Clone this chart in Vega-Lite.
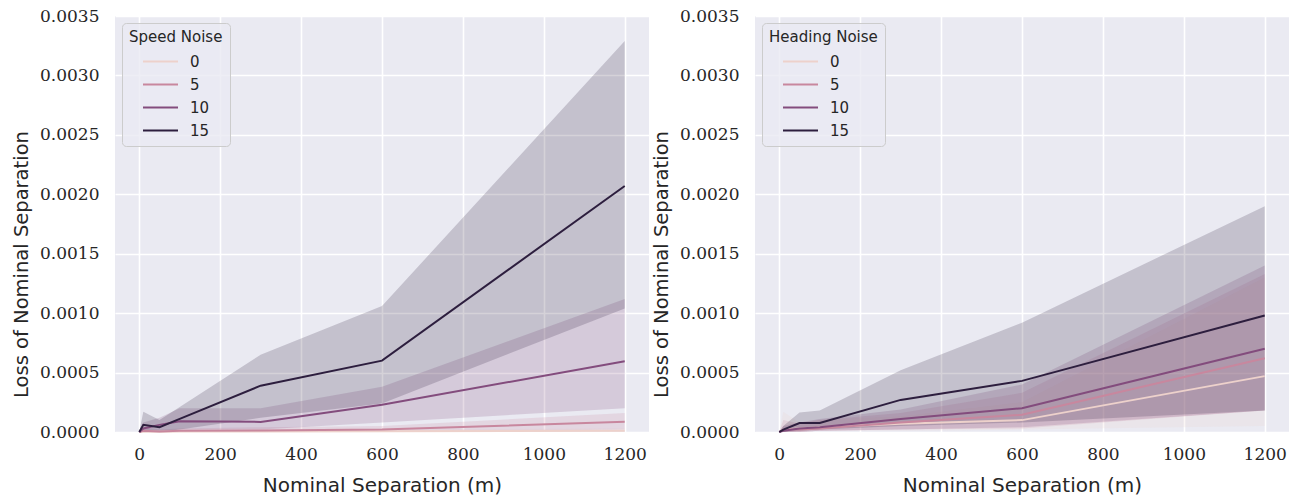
{
  "$schema": "https://vega.github.io/schema/vega-lite/v6.json",
  "background": "white",
  "padding": {"left": 11, "top": 7, "right": 0, "bottom": 0},
  "spacing": 2,
  "datasets": {
    "speed": [
      {"noise": 0, "sep": 0, "loss": 0, "lo": 0, "hi": 0},
      {"noise": 0, "sep": 10, "loss": 0.000005, "lo": 0, "hi": 0.00002},
      {"noise": 0, "sep": 50, "loss": 0.000003, "lo": 0, "hi": 0.00001},
      {"noise": 0, "sep": 100, "loss": 0.000005, "lo": 0, "hi": 0.00002},
      {"noise": 0, "sep": 300, "loss": 0.000005, "lo": 0, "hi": 0.00002},
      {"noise": 0, "sep": 600, "loss": 0.000006, "lo": 0, "hi": 0.00002},
      {"noise": 0, "sep": 1200, "loss": 0.00001, "lo": 0, "hi": 0.00003},
      {"noise": 5, "sep": 0, "loss": 0, "lo": 0, "hi": 0},
      {"noise": 5, "sep": 10, "loss": 0.00001, "lo": 0, "hi": 0.00004},
      {"noise": 5, "sep": 50, "loss": 0.000005, "lo": 0, "hi": 0.00002},
      {"noise": 5, "sep": 100, "loss": 0.00001, "lo": 0, "hi": 0.00003},
      {"noise": 5, "sep": 300, "loss": 0.000012, "lo": 0, "hi": 0.00004},
      {"noise": 5, "sep": 600, "loss": 0.00002, "lo": 0, "hi": 0.00005},
      {"noise": 5, "sep": 1200, "loss": 0.000087, "lo": 0.00002, "hi": 0.00016},
      {"noise": 10, "sep": 0, "loss": 0, "lo": 0, "hi": 0},
      {"noise": 10, "sep": 10, "loss": 0.00003, "lo": 0, "hi": 0.00008},
      {"noise": 10, "sep": 50, "loss": 0.00006, "lo": 0.00001, "hi": 0.00012},
      {"noise": 10, "sep": 100, "loss": 0.00009, "lo": 0.00002, "hi": 0.0002},
      {"noise": 10, "sep": 300, "loss": 0.000085, "lo": 0.00002, "hi": 0.0002},
      {"noise": 10, "sep": 600, "loss": 0.00023, "lo": 0.00008, "hi": 0.00038},
      {"noise": 10, "sep": 1200, "loss": 0.000595, "lo": 0.0002, "hi": 0.00112},
      {"noise": 15, "sep": 0, "loss": 0, "lo": 0, "hi": 0},
      {"noise": 15, "sep": 10, "loss": 0.00006, "lo": 0, "hi": 0.00017},
      {"noise": 15, "sep": 50, "loss": 0.00004, "lo": 0, "hi": 0.0001},
      {"noise": 15, "sep": 100, "loss": 0.00011, "lo": 0.00002, "hi": 0.00021},
      {"noise": 15, "sep": 300, "loss": 0.00039, "lo": 0.00012, "hi": 0.00065},
      {"noise": 15, "sep": 600, "loss": 0.0006, "lo": 0.00024, "hi": 0.00106},
      {"noise": 15, "sep": 1200, "loss": 0.00207, "lo": 0.00104, "hi": 0.00329}
    ],
    "heading": [
      {"noise": 0, "sep": 0, "loss": 0, "lo": 0, "hi": 0},
      {"noise": 0, "sep": 10, "loss": 0.00002, "lo": 0, "hi": 0.00017},
      {"noise": 0, "sep": 50, "loss": 0.00003, "lo": 0, "hi": 0.00008},
      {"noise": 0, "sep": 100, "loss": 0.00004, "lo": 0.00001, "hi": 0.0001},
      {"noise": 0, "sep": 300, "loss": 0.00007, "lo": 0.00001, "hi": 0.00013},
      {"noise": 0, "sep": 600, "loss": 0.0001, "lo": 0.00002, "hi": 0.00025},
      {"noise": 0, "sep": 1200, "loss": 0.00047, "lo": 0.00005, "hi": 0.0013},
      {"noise": 5, "sep": 0, "loss": 0, "lo": 0, "hi": 0},
      {"noise": 5, "sep": 10, "loss": 0.00002, "lo": 0, "hi": 0.0001},
      {"noise": 5, "sep": 50, "loss": 0.00002, "lo": 0, "hi": 0.00007},
      {"noise": 5, "sep": 100, "loss": 0.00003, "lo": 0.00001, "hi": 0.0001},
      {"noise": 5, "sep": 300, "loss": 0.00008, "lo": 0.00002, "hi": 0.00016},
      {"noise": 5, "sep": 600, "loss": 0.000145, "lo": 0.00003, "hi": 0.00033},
      {"noise": 5, "sep": 1200, "loss": 0.00062, "lo": 0.00018, "hi": 0.00133},
      {"noise": 10, "sep": 0, "loss": 0, "lo": 0, "hi": 0},
      {"noise": 10, "sep": 10, "loss": 0.00001, "lo": 0, "hi": 0.00005},
      {"noise": 10, "sep": 50, "loss": 0.00003, "lo": 0, "hi": 0.00008},
      {"noise": 10, "sep": 100, "loss": 0.00004, "lo": 0.00001, "hi": 0.00011},
      {"noise": 10, "sep": 300, "loss": 0.00011, "lo": 0.00002, "hi": 0.00019},
      {"noise": 10, "sep": 600, "loss": 0.0002, "lo": 0.00004, "hi": 0.0004},
      {"noise": 10, "sep": 1200, "loss": 0.0007, "lo": 0.00018, "hi": 0.0014},
      {"noise": 15, "sep": 0, "loss": 0, "lo": 0, "hi": 0},
      {"noise": 15, "sep": 10, "loss": 0.00002, "lo": 0, "hi": 0.00005},
      {"noise": 15, "sep": 50, "loss": 0.000075, "lo": 0.00001, "hi": 0.000165},
      {"noise": 15, "sep": 100, "loss": 0.000075, "lo": 0.00002, "hi": 0.00018},
      {"noise": 15, "sep": 300, "loss": 0.00027, "lo": 0.00005, "hi": 0.00052},
      {"noise": 15, "sep": 600, "loss": 0.00043, "lo": 0.00008, "hi": 0.00092},
      {"noise": 15, "sep": 1200, "loss": 0.00098, "lo": 0.00018, "hi": 0.0019}
    ]
  },
  "hconcat": [
    {
      "width": 534,
      "height": 416,
      "data": {"name": "speed"},
      "layer": [
        {
          "mark": {"type": "area", "opacity": 0.2},
          "encoding": {
            "x": {"field": "sep", "type": "quantitative", "scale": {"domain": [-60, 1260], "nice": false, "zero": false},
                  "axis": {"title": "Nominal Separation (m)", "values": [0, 200, 400, 600, 800, 1000, 1200], "format": "d"}},
            "y": {"field": "hi", "type": "quantitative", "scale": {"domain": [0, 0.0035], "nice": false},
                  "axis": {"title": "Loss of Nominal Separation", "values": [0, 0.0005, 0.001, 0.0015, 0.002, 0.0025, 0.003, 0.0035], "format": ".4f"}},
            "y2": {"field": "lo"},
            "fill": {"field": "noise", "type": "ordinal", "scale": {"domain": [0, 5, 10, 15], "range": ["#edd1cb", "#c8879e", "#834c7d", "#2d1e3e"]},
                     "legend": {"title": "Speed Noise"}},
            "detail": {"field": "noise"}
          }
        },
        {
          "mark": {"type": "line", "strokeWidth": 2},
          "encoding": {
            "x": {"field": "sep", "type": "quantitative"},
            "y": {"field": "loss", "type": "quantitative"},
            "stroke": {"field": "noise", "type": "ordinal", "scale": {"domain": [0, 5, 10, 15], "range": ["#edd1cb", "#c8879e", "#834c7d", "#2d1e3e"]},
                       "legend": {"title": "Speed Noise"}}
          }
        }
      ]
    },
    {
      "width": 534,
      "height": 416,
      "data": {"name": "heading"},
      "layer": [
        {
          "mark": {"type": "area", "opacity": 0.2},
          "encoding": {
            "x": {"field": "sep", "type": "quantitative", "scale": {"domain": [-60, 1260], "nice": false, "zero": false},
                  "axis": {"title": "Nominal Separation (m)", "values": [0, 200, 400, 600, 800, 1000, 1200], "format": "d"}},
            "y": {"field": "hi", "type": "quantitative", "scale": {"domain": [0, 0.0035], "nice": false},
                  "axis": {"title": "Loss of Nominal Separation", "values": [0, 0.0005, 0.001, 0.0015, 0.002, 0.0025, 0.003, 0.0035], "format": ".4f"}},
            "y2": {"field": "lo"},
            "fill": {"field": "noise", "type": "ordinal", "scale": {"domain": [0, 5, 10, 15], "range": ["#edd1cb", "#c8879e", "#834c7d", "#2d1e3e"]},
                     "legend": {"title": "Heading Noise"}},
            "detail": {"field": "noise"}
          }
        },
        {
          "mark": {"type": "line", "strokeWidth": 2},
          "encoding": {
            "x": {"field": "sep", "type": "quantitative"},
            "y": {"field": "loss", "type": "quantitative"},
            "stroke": {"field": "noise", "type": "ordinal", "scale": {"domain": [0, 5, 10, 15], "range": ["#edd1cb", "#c8879e", "#834c7d", "#2d1e3e"]},
                       "legend": {"title": "Heading Noise"}}
          }
        }
      ]
    }
  ],
  "resolve": {"scale": {"stroke": "independent", "fill": "independent"}, "legend": {"stroke": "independent", "fill": "independent"}},
  "config": {
    "view": {"fill": "#eaeaf2", "stroke": null},
    "axis": {
      "domain": false, "ticks": false,
      "gridColor": "#ffffff", "gridWidth": 1.6, "gridOpacity": 1,
      "labelFont": "DejaVu Sans", "labelFontSize": 17, "labelColor": "#262626",
      "titleFont": "DejaVu Sans", "titleFontWeight": "normal", "titleColor": "#262626"
    },
    "axisX": {"labelPadding": 14, "titlePadding": 13, "titleFontSize": 20, "labelFont": "DejaVu Serif"},
    "axisY": {"labelPadding": 16, "titlePadding": 8, "titleFontSize": 19.5, "titleY": 248, "labelFont": "DejaVu Serif"},
    "legend": {
      "orient": "top-left", "offset": 7, "padding": 7,
      "fillColor": "rgba(234,234,242,0.8)", "strokeColor": "#cccccc", "cornerRadius": 4,
      "symbolType": "M-2.5,0H2.5", "symbolSize": 196, "symbolStrokeWidth": 2.2, "symbolOpacity": 1,
      "symbolOffset": 23, "labelOffset": 21, "rowPadding": 6, "titlePadding": 8,
      "labelFont": "DejaVu Sans", "labelFontSize": 15, "labelColor": "#262626",
      "titleFont": "DejaVu Sans", "titleFontSize": 15, "titleFontWeight": "normal", "titleColor": "#262626"
    }
  }
}
